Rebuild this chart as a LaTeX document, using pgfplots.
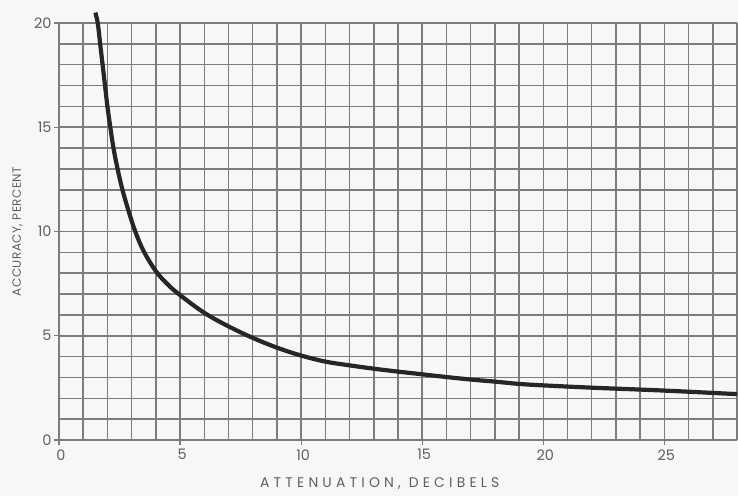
\documentclass[border=0pt]{standalone}
\usepackage{fontspec}
\setmainfont{Poppins}
\usepackage{pgfplots}
\pgfplotsset{compat=1.18}
\definecolor{gridc}{RGB}{125,125,125}
\definecolor{curvec}{RGB}{38,38,38}
\definecolor{labc}{RGB}{95,95,95}
\definecolor{bgc}{RGB}{247,247,247}
\begin{document}
\begin{tikzpicture}
\path[use as bounding box, fill=bgc] (-59bp,-56bp) rectangle (679bp,440bp);
\begin{axis}[
  at={(0,0)}, anchor=south west,
  width=678bp, height=417bp, scale only axis=true,
  xmin=0, xmax=28, ymin=0, ymax=20,
  xtick={0,5,...,25}, ytick={0,5,...,20},
  minor xtick={0,1,...,28}, minor ytick={0,1,...,20},
  grid=minor,
  minor grid style={gridc, line width=1.5bp},
  axis line style={gridc, line width=1.5bp},
  tick style={gridc, line width=1.2bp},
  minor tick length=0pt,
  major tick length=5bp,
  tick align=outside,
  xtick pos=bottom, ytick pos=left,
  clip=false,
  axis x line*=bottom, axis y line*=left,
  /pgf/number format/assume math mode=true,
  tick label style={font=\fontsize{14.5}{14.5}\selectfont, text=labc},
  xticklabel style={yshift=-1bp, xshift=2bp},
  yticklabel style={xshift=1bp},
  xlabel={\addfontfeature{LetterSpace=30}ATTENUATION, DECIBELS},
  ylabel={\addfontfeature{LetterSpace=4}ACCURACY, PERCENT},
  xlabel style={font=\fontsize{14}{14}\selectfont, text=labc, at={(axis description cs:0.473,0)}, anchor=base, yshift=-47bp},
  ylabel style={font=\fontsize{12}{12}\selectfont, text=labc, at={(axis description cs:0,0.5)}, anchor=base, yshift=38bp},
]
\addplot[curvec, line width=4.2bp, smooth, tension=0.6] coordinates {
(1.50,20.5) (1.60,20.0) (1.70,19.0) (1.80,18.0) (1.90,17.0) (2.00,16.0)
(2.12,15.0) (2.25,14.0) (2.42,13.0) (2.62,12.0) (2.87,11.0) (3.15,10.0)
(3.50,9.05) (4.0,8.1) (4.5,7.45) (5,6.95) (6,6.1) (7,5.45) (8,4.9)
(9,4.43) (10,4.05) (11,3.76) (12,3.58) (13,3.42) (14,3.28) (15,3.15)
(16,3.02) (17,2.90) (18,2.80) (19,2.69) (20,2.62) (22,2.51) (25,2.37) (28,2.2)
};
\end{axis}
\end{tikzpicture}
\end{document}
